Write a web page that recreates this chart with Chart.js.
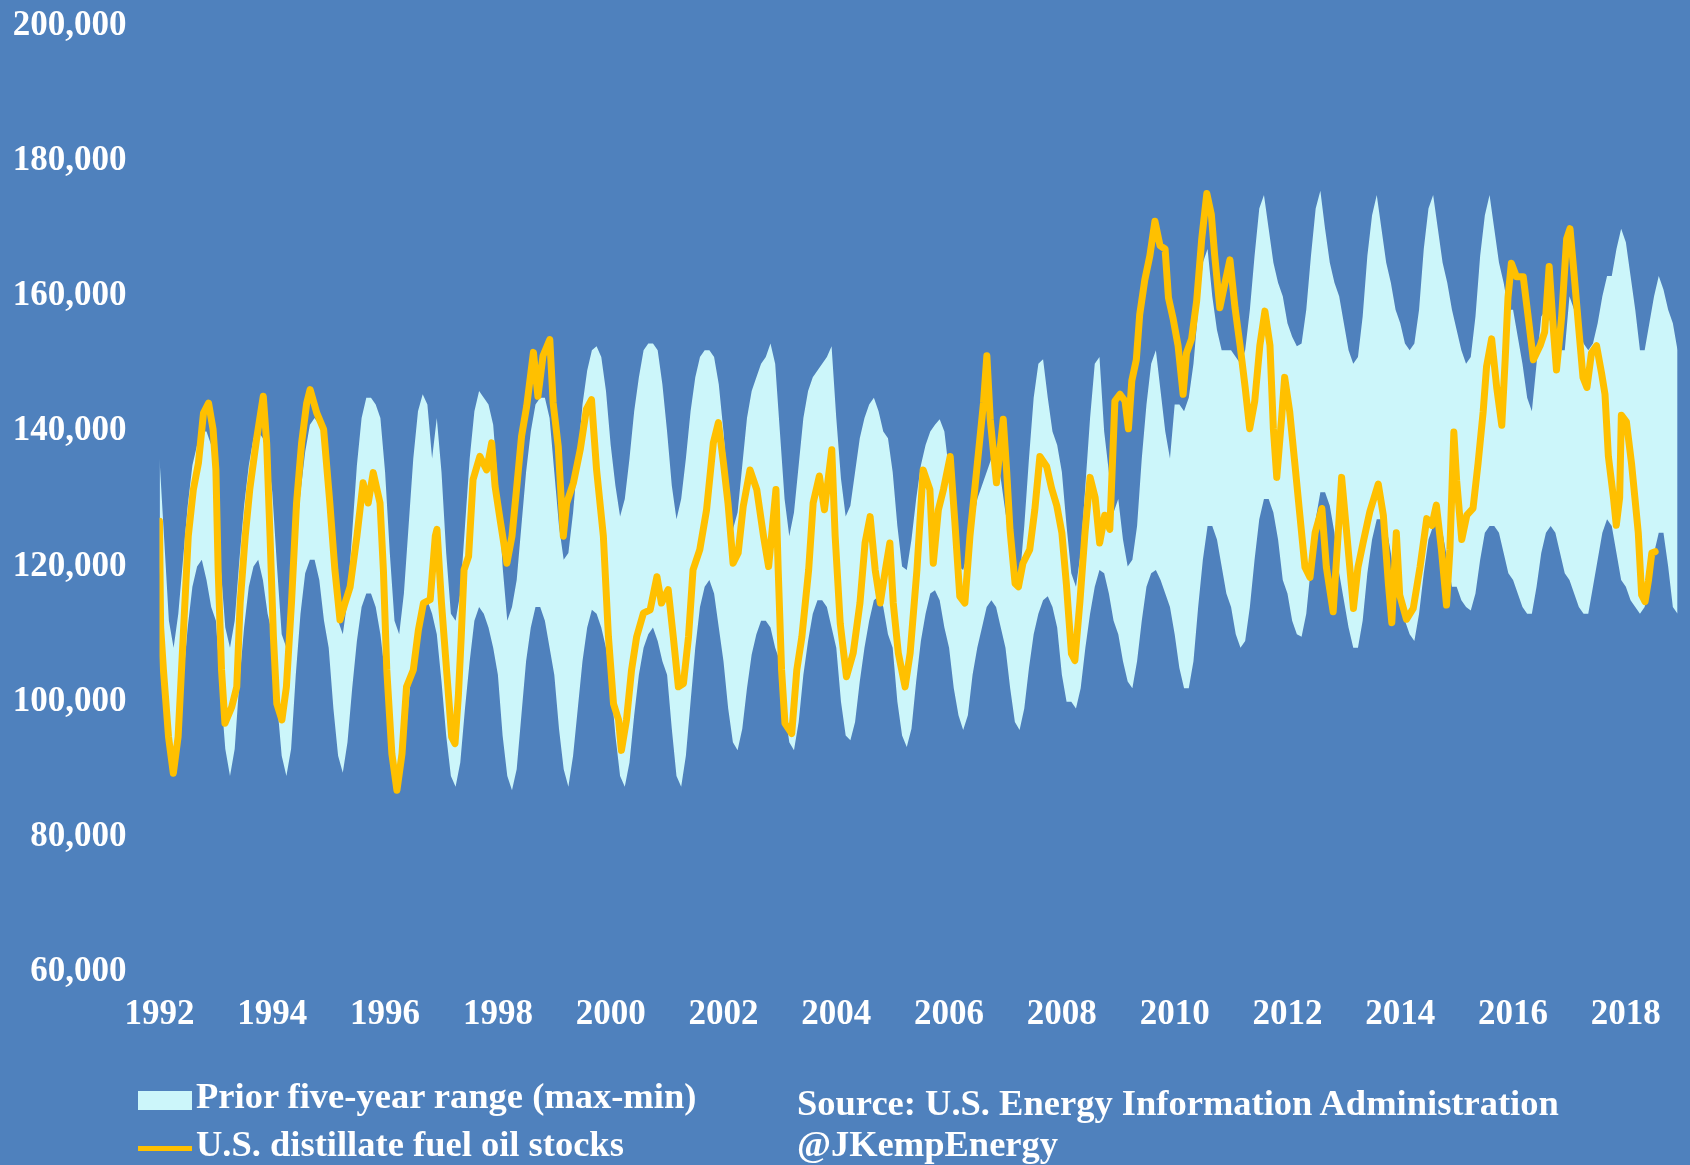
<!DOCTYPE html>
<html>
<head>
<meta charset="utf-8">
<script src="https://cdn.jsdelivr.net/npm/chart.js@4.4.1/dist/chart.umd.min.js"></script>
<style>
  html, body { margin: 0; padding: 0; background: #4F81BD; }
  #wrap { position: relative; width: 1690px; height: 1165px; overflow: hidden; background: #4F81BD; }
  #chart { position: absolute; left: 0; top: 0; }
  .txt { position: absolute; color: #fff; font-family: "Liberation Serif", serif; font-weight: bold; font-size: 36.5px; line-height: 1; white-space: nowrap; }
  .swatch { position: absolute; }
</style>
</head>
<body>
<div id="wrap">
  <canvas id="chart" width="1690" height="1165"></canvas>
  <div class="swatch" style="left:138px;top:1091px;width:54px;height:19px;background:#CCF6FA"></div>
  <div class="txt" style="left:196px;top:1078px">Prior five-year range (max-min)</div>
  <div class="swatch" style="left:138px;top:1146px;width:54px;height:5px;background:#FFC000"></div>
  <div class="txt" style="left:196px;top:1126px">U.S. distillate fuel oil stocks</div>
  <div class="txt" style="left:797px;top:1085px">Source: U.S. Energy Information Administration</div>
  <div class="txt" style="left:797px;top:1126px">@JKempEnergy</div>
</div>
<script>
// axis ticks
const xTickYears = [1992, 1994, 1996, 1998, 2000, 2002, 2004, 2006, 2008, 2010, 2012, 2014, 2016, 2018];
const yTickValues = [60000, 80000, 100000, 120000, 140000, 160000, 180000, 200000];

// U.S. distillate fuel oil stocks, thousand barrels [year, value]
const stocks = [
  [1992.00,126700],[1992.02,111100],[1992.07,104700],[1992.16,94800],[1992.245,89400],[1992.33,94800],[1992.42,109600],[1992.51,124500],[1992.60,131400],[1992.69,135300],[1992.78,142700],[1992.87,144200],[1992.95,140300],
  [1993.00,134300],[1993.04,119500],[1993.10,104700],[1993.16,96800],[1993.28,99200],[1993.37,102200],[1993.43,114600],[1993.52,124500],[1993.60,131400],[1993.72,138800],[1993.84,145200],[1993.90,138300],[1993.96,124500],
  [1994.02,109600],[1994.08,99700],[1994.17,97300],[1994.25,102200],[1994.34,114600],[1994.43,129400],[1994.52,138300],[1994.61,144200],[1994.67,146200],[1994.79,142700],[1994.91,140300],
  [1995.02,129400],[1995.11,119500],[1995.20,112100],[1995.29,114600],[1995.38,117000],[1995.50,124500],[1995.61,132400],[1995.70,129400],[1995.79,133900],[1995.91,129400],[1995.97,119500],
  [1996.03,104700],[1996.12,92300],[1996.21,86900],[1996.30,92300],[1996.38,102200],[1996.50,104700],[1996.59,110600],[1996.68,114600],[1996.80,115100],[1996.89,124500],[1996.92,125500],
  [1997.00,114600],[1997.09,104700],[1997.18,94800],[1997.24,93800],[1997.30,101000],[1997.35,109600],[1997.40,119500],[1997.48,121500],[1997.56,132900],[1997.68,136300],[1997.80,134300],[1997.89,138300],[1997.95,131900],
  [1998.04,126900],[1998.16,120500],[1998.25,124500],[1998.33,131400],[1998.42,139300],[1998.51,143700],[1998.63,151700],[1998.71,145200],[1998.80,151200],[1998.92,153600],[1998.98,144200],
  [1999.07,137800],[1999.16,124500],[1999.22,129400],[1999.34,132400],[1999.46,137300],[1999.57,143300],[1999.66,144700],[1999.75,134300],[1999.87,124500],[1999.96,109600],
  [2000.05,99700],[2000.14,97300],[2000.19,92800],[2000.28,97300],[2000.37,104700],[2000.46,109600],[2000.58,113100],[2000.70,113600],[2000.82,118500],[2000.90,114600],
  [2001.02,116600],[2001.11,109600],[2001.20,102200],[2001.29,102700],[2001.38,109600],[2001.46,119500],[2001.58,122500],[2001.70,128400],[2001.82,138300],[2001.91,141300],
  [2002.00,135300],[2002.08,129400],[2002.17,120500],[2002.26,122000],[2002.35,128900],[2002.47,134300],[2002.59,131400],[2002.71,124500],[2002.80,120000],[2002.88,126900],[2002.93,131400],[2002.97,119500],
  [2003.03,104700],[2003.09,96800],[2003.21,95300],[2003.30,104700],[2003.39,109600],[2003.51,119500],[2003.59,129400],[2003.70,133400],[2003.79,128400],[2003.92,137300],[2003.98,124500],
  [2004.07,111600],[2004.18,103700],[2004.30,107200],[2004.42,114600],[2004.51,123500],[2004.60,127400],[2004.69,119500],[2004.78,114600],[2004.87,119500],[2004.95,123500],
  [2005.01,114600],[2005.10,107200],[2005.22,102200],[2005.31,107200],[2005.43,119500],[2005.54,134300],[2005.66,131400],[2005.72,120500],[2005.81,128400],[2005.90,131400],
  [2006.02,136300],[2006.10,126900],[2006.19,115600],[2006.28,114600],[2006.37,124500],[2006.49,134300],[2006.61,144200],[2006.67,151200],[2006.73,141800],[2006.84,132400],[2006.96,141800],
  [2007.02,134300],[2007.08,125500],[2007.17,117500],[2007.23,117000],[2007.31,120500],[2007.43,122500],[2007.52,128400],[2007.61,136300],[2007.73,134800],[2007.82,131500],[2007.91,129000],
  [2008.00,125000],[2008.08,117400],[2008.17,107100],[2008.23,106100],[2008.32,114800],[2008.41,125000],[2008.50,133200],[2008.59,130200],[2008.67,123500],[2008.76,127600],[2008.85,125500],[2008.94,144500],
  [2009.03,145500],[2009.12,144500],[2009.18,140400],[2009.24,147500],[2009.32,150600],[2009.38,157300],[2009.47,162400],[2009.56,166000],[2009.65,171100],[2009.74,167500],[2009.83,167000],[2009.89,159800],[2009.97,156800],
  [2010.06,152700],[2010.15,145500],[2010.21,151600],[2010.30,153700],[2010.39,159300],[2010.48,168500],[2010.57,175200],[2010.65,172100],[2010.71,166000],[2010.80,158300],[2010.89,161900],[2010.98,165400],
  [2011.07,158300],[2011.16,152700],[2011.25,146500],[2011.33,140400],[2011.42,144500],[2011.51,152700],[2011.60,157800],[2011.69,152700],[2011.75,140400],[2011.81,133200],[2011.90,142400],[2011.95,148000],
  [2012.04,142900],[2012.13,135300],[2012.22,127600],[2012.31,119900],[2012.40,118400],[2012.49,125000],[2012.61,128600],[2012.69,119900],[2012.81,113300],[2012.90,125000],[2012.96,133200],
  [2013.05,125000],[2013.17,113800],[2013.25,119900],[2013.34,123500],[2013.46,128100],[2013.61,132200],[2013.70,127600],[2013.79,117400],[2013.85,111700],[2013.93,125000],[2013.99,115800],
  [2014.11,112200],[2014.23,113800],[2014.35,119900],[2014.47,127100],[2014.56,126100],[2014.64,129100],[2014.73,122500],[2014.82,114300],[2014.88,122500],[2014.95,139900],
  [2015.00,132700],[2015.09,124000],[2015.18,127600],[2015.29,128600],[2015.38,135300],[2015.47,142900],[2015.53,149600],[2015.62,153700],[2015.71,146500],[2015.80,140900],[2015.86,150600],[2015.91,159800],[2015.97,164900],
  [2016.06,162900],[2016.18,162900],[2016.27,156800],[2016.36,150600],[2016.48,152700],[2016.56,154700],[2016.64,164400],[2016.71,155700],[2016.77,149100],[2016.86,156800],[2016.95,168500],
  [2017.01,170000],[2017.07,164400],[2017.16,155700],[2017.24,148000],[2017.31,146500],[2017.39,151600],[2017.48,152700],[2017.57,148600],[2017.63,145500],[2017.69,136300],[2017.78,130200],[2017.83,126100],[2017.89,130200],[2017.92,142400],
  [2018.01,141400],[2018.10,135300],[2018.16,130200],[2018.22,125000],[2018.28,115800],[2018.34,114800],[2018.40,117900],[2018.46,122000],[2018.52,122200]
];

// prior five-year range, monthly from Jan 1992 (thousand barrels)
const bandStart = 1992;
const bandHigh = [
  136,124,112,108,113,121,129,135,138,140,140,138,
  132,120,111,108,112,121,129,135,139,140,139,137,
  131,120,110,108,113,123,131,137,141,142,141,139,
  131,120,112,110,115,125,135,142,145,145,144,142,
  134,122,112,110,116,126,136,143,145.5,144,136,142,
  134,122,113,112,116,126,136,143,146,145,144,141,
  132,120,112,114,118,126,134,140,144,145,145,142,
  134,126,121,122,128,136,144,149,152,152.6,151,146,
  138,132,127.4,130,136,143,148,152,153,153,152,147,
  140,132,127,130,136,143,148,151,152,152,151,147,
  140,131,125.5,128,135,142,146,148,150,151,153,150,
  140,130,124.5,128,135,142,146,148,149,150,151,152.6,
  142,133,127.4,129,134,139,142,144,145,143,140,139,
  134,126,120,119.5,124,130,135,138,140,141,141.8,140,
  134,126,120,119.5,122,126,130,132,134,136,136,133,
  128,124,120,118,126,136,145,150,150.7,145,140,138,
  134,126,119,117,122,132,142,150,151,140,134,128,
  130,124,120,121,126,136,144,150,152,146,140,136,
  144,144,143,145,150,158,165,167,160,155,152,152,
  152,151,150,152,158,166,173,175,170,165,162,160,
  156,154,152.6,153,158,166,173,175.6,170,165,162,160,
  156,152,150,151,157,166,172,175,170,165,162,158,
  156,153,152,153,158,167,173,175,170,165,162,158,
  155,152,150,151,157,166,172,175,170,165,162,158,
  158,154,150,145,143,150,157,158,156,154,152,152,
  160,158,155,153,152,153,156,160,163,163,167,170,
  168,163,158,152,152,156,160,163,161,158,156,152
];
const bandLow = [
  120,106,96,90,94,103,111,117,120,121,118,114,
  112,102,93,89,93,103,111,117,120,121,118,113,
  110,100,92,89,93,104,113,119,121,121,118,112,
  108,99,92,89.5,94,102,109,114,116,116,114,110,
  104,96,90,88,92,100,107,112,114,115,113,110,
  103,95,89,87.4,91,99,106,112,114,113,111,108,
  104,95,89,86.9,90,98,106,111,114,114,112,108,
  104,96,90,87.4,92,99,106,111,113.6,113,111,108,
  103,95,89,87.4,91,98,104,108,110,111,109,106,
  104,96,89,87.4,92,100,108,114,117,118,116,111,
  106,99,94,92.8,96,102,107,110,112,112,111,108,
  106,99,94,92.8,97,104,109,113,115,115,114,111,
  108,100,95,94.3,97,103,108,112,115,115.6,114,110,
  108,100,95,93.3,96,103,109,113,116,116.5,115,111,
  108,102,98,95.8,98,104,108,111,114,115,114,111,
  108,102,97,95.8,99,105,110,113,115,115.6,114,111,
  104,100,100,99,102,108,113,117,119.5,119,116,112,
  110,106,103,102,106,112,117,119,119.5,118,116,114,
  110,105,102,102,106,114,121,126,126,124,120,116,
  114,110,108,109,114,121,127,130,130,128,124,118,
  116,112,110,109.6,113,120,127,131,131,129,125,119,
  115,111,108,108,112,119,124,127,127,126,122,117,
  115,112,110,109,113,119,124,126,126,125,121,117,
  117,115,114,113.5,116,121,125,126,126,125,122,119,
  118,116,114,113,113,117,122,125,126,125,122,119,
  118,116,114,113,113,117,121,125,127,126,122,118,
  117,115,114,113,114,118,122,125,125,120,114,113
];

let stockPoints = [];
for (let i = 0; i < stocks.length; i++) {
    stockPoints.push({x: stocks[i][0], y: stocks[i][1]});
}
let highPoints = [];
let lowPoints = [];
for (let i = 0; i < bandHigh.length; i++) {
    highPoints.push({x: bandStart + i / 12, y: bandHigh[i] * 1000});
    lowPoints.push({x: bandStart + i / 12, y: bandLow[i] * 1000});
}

const tickFont = {family: 'Liberation Serif', size: 35, weight: 'bold'};

const myChart = new Chart(document.getElementById('chart'), {
    type: 'line',
    data: {
        datasets: [{
            label: 'U.S. distillate fuel oil stocks',
            data: stockPoints,
            borderColor: '#FFC000',
            borderWidth: 7,
            borderJoinStyle: 'round',
            borderCapStyle: 'round',
            pointRadius: 0,
            fill: false,
            tension: 0
        },
        {
            label: 'Prior five-year range (max-min)',
            data: highPoints,
            borderWidth: 0,
            borderColor: 'rgba(0,0,0,0)',
            backgroundColor: '#CCF6FA',
            pointRadius: 0,
            fill: '+1'
        },
        {
            label: 'range low',
            data: lowPoints,
            borderWidth: 0,
            borderColor: 'rgba(0,0,0,0)',
            pointRadius: 0,
            fill: false
        }]
    },
    options: {
        responsive: false,
        devicePixelRatio: 1,
        animation: false,
        layout: {
            padding: {top: 26, right: 10, left: 0, bottom: 0}
        },
        plugins: {
            legend: {display: false},
            tooltip: {enabled: false}
        },
        scales: {
            x: {
                type: 'linear',
                min: 1992,
                max: 2018.96,
                grid: {display: false, drawTicks: false},
                border: {display: false},
                afterBuildTicks: function (scale) {
                    scale.ticks = xTickYears.map(v => ({value: v}));
                },
                afterFit: function (scale) {
                    scale.height = 193;
                },
                ticks: {
                    color: '#fff',
                    font: tickFont,
                    padding: 22,
                    maxRotation: 0,
                    autoSkip: false,
                    callback: v => String(v)
                }
            },
            y: {
                min: 60000,
                max: 200000,
                grid: {display: false, drawTicks: false},
                border: {display: false},
                afterBuildTicks: function (scale) {
                    scale.ticks = yTickValues.map(v => ({value: v}));
                },
                afterFit: function (scale) {
                    // fixed axis width; label overflow is handled by layout padding
                    scale.width = 159.5;
                    scale.paddingTop = 0;
                    scale.paddingBottom = 0;
                },
                ticks: {
                    color: '#fff',
                    font: tickFont,
                    padding: 33,
                    callback: v => v.toLocaleString('en-US')
                }
            }
        }
    }
});
</script>
</body>
</html>
